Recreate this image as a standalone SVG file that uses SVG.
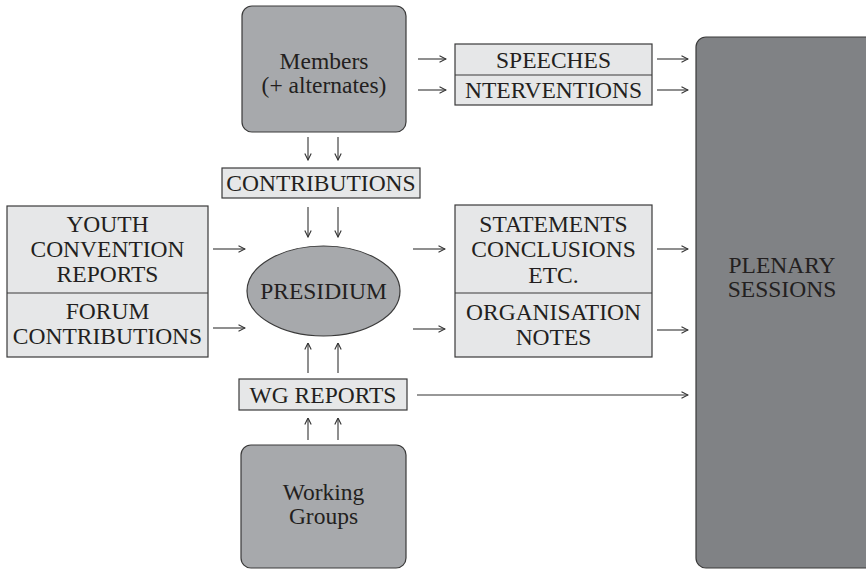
<svg xmlns="http://www.w3.org/2000/svg" width="866" height="570" viewBox="0 0 866 570">
  <style>
    text { font-family: 'Liberation Serif', 'Times New Roman', 'DejaVu Serif', serif; font-size: 23.5px; fill: #231f20; text-anchor: middle; }
    .dark { fill: #a7a9ac; stroke: #3a3a3a; stroke-width: 1.2; }
    .plen { fill: #808285; stroke: #3a3a3a; stroke-width: 1.2; }
    .light { fill: #e6e7e8; stroke: #3a3a3a; stroke-width: 1.2; }
    .div { stroke: #3a3a3a; stroke-width: 1.2; fill: none; }
    .arr { stroke: #333; stroke-width: 1.1; fill: none; marker-end: url(#head); }
  </style>
  <defs>
    <marker id="head" viewBox="0 0 8 8" refX="7.5" refY="4" markerWidth="8" markerHeight="8" markerUnits="userSpaceOnUse" orient="auto">
      <path d="M1,0.8 L7.5,4 L1,7.2" fill="none" stroke="#333" stroke-width="1.1"/>
    </marker>
  </defs>

  <!-- plenary sessions -->
  <g id="plenary">
    <rect class="plen" x="696" y="37" width="185" height="531" rx="10"/>
    <text x="782" y="273">PLENARY</text>
    <text x="782" y="297">SESSIONS</text>
  </g>

  <!-- members -->
  <g id="members">
    <rect class="dark" x="242" y="6" width="164" height="126" rx="10"/>
    <text x="324" y="69">Members</text>
    <text x="324" y="93">(+ alternates)</text>
  </g>

  <!-- speeches / interventions -->
  <g id="speeches">
    <rect class="light" x="455" y="44" width="197" height="61"/>
    <line class="div" x1="455" y1="75" x2="652" y2="75"/>
    <text x="553.5" y="68">SPEECHES</text>
    <text x="553.5" y="98">NTERVENTIONS</text>
  </g>

  <!-- contributions -->
  <g id="contributions">
    <rect class="light" x="222" y="168" width="198" height="30"/>
    <text x="321" y="191">CONTRIBUTIONS</text>
  </g>

  <!-- presidium -->
  <g id="presidium">
    <ellipse class="dark" cx="323.5" cy="291" rx="76.5" ry="45"/>
    <text x="323.5" y="299">PRESIDIUM</text>
  </g>

  <!-- youth convention / forum -->
  <g id="inputs">
    <rect class="light" x="7" y="206" width="201" height="151"/>
    <line class="div" x1="7" y1="293" x2="208" y2="293"/>
    <text x="107.5" y="232">YOUTH</text>
    <text x="107.5" y="257">CONVENTION</text>
    <text x="107.5" y="282">REPORTS</text>
    <text x="107.5" y="319">FORUM</text>
    <text x="107.5" y="344">CONTRIBUTIONS</text>
  </g>

  <!-- statements / organisation notes -->
  <g id="outputs">
    <rect class="light" x="455" y="205" width="197" height="152"/>
    <line class="div" x1="455" y1="293" x2="652" y2="293"/>
    <text x="553.5" y="232">STATEMENTS</text>
    <text x="553.5" y="257">CONCLUSIONS</text>
    <text x="553.5" y="283">ETC.</text>
    <text x="553.5" y="320">ORGANISATION</text>
    <text x="553.5" y="345">NOTES</text>
  </g>

  <!-- working group reports -->
  <g id="wg-reports">
    <rect class="light" x="239" y="379" width="168" height="31"/>
    <text x="323" y="403">WG REPORTS</text>
  </g>

  <!-- working groups -->
  <g id="working-groups">
    <rect class="dark" x="241" y="445" width="165" height="123" rx="10"/>
    <text x="323.5" y="500">Working</text>
    <text x="323.5" y="524">Groups</text>
  </g>

  <!-- connectors -->
  <g id="connectors">
    <line class="arr" x1="418" y1="59" x2="446" y2="59"/>
    <line class="arr" x1="418" y1="90" x2="446" y2="90"/>
    <line class="arr" x1="657" y1="59" x2="688" y2="59"/>
    <line class="arr" x1="657" y1="90" x2="688" y2="90"/>

    <line class="arr" x1="308" y1="137" x2="308" y2="160"/>
    <line class="arr" x1="338" y1="137" x2="338" y2="160"/>
    <line class="arr" x1="308" y1="207" x2="308" y2="237"/>
    <line class="arr" x1="338" y1="207" x2="338" y2="237"/>

    <line class="arr" x1="213" y1="249" x2="245" y2="249"/>
    <line class="arr" x1="213" y1="328" x2="245" y2="328"/>
    <line class="arr" x1="413" y1="249" x2="445" y2="249"/>
    <line class="arr" x1="413" y1="329" x2="445" y2="329"/>
    <line class="arr" x1="657" y1="249" x2="688" y2="249"/>
    <line class="arr" x1="657" y1="330" x2="688" y2="330"/>

    <line class="arr" x1="308" y1="373" x2="308" y2="343"/>
    <line class="arr" x1="338" y1="373" x2="338" y2="343"/>
    <line class="arr" x1="308" y1="440" x2="308" y2="418"/>
    <line class="arr" x1="338" y1="440" x2="338" y2="418"/>

    <line class="arr" x1="417" y1="395" x2="688" y2="395"/>
  </g>
</svg>
